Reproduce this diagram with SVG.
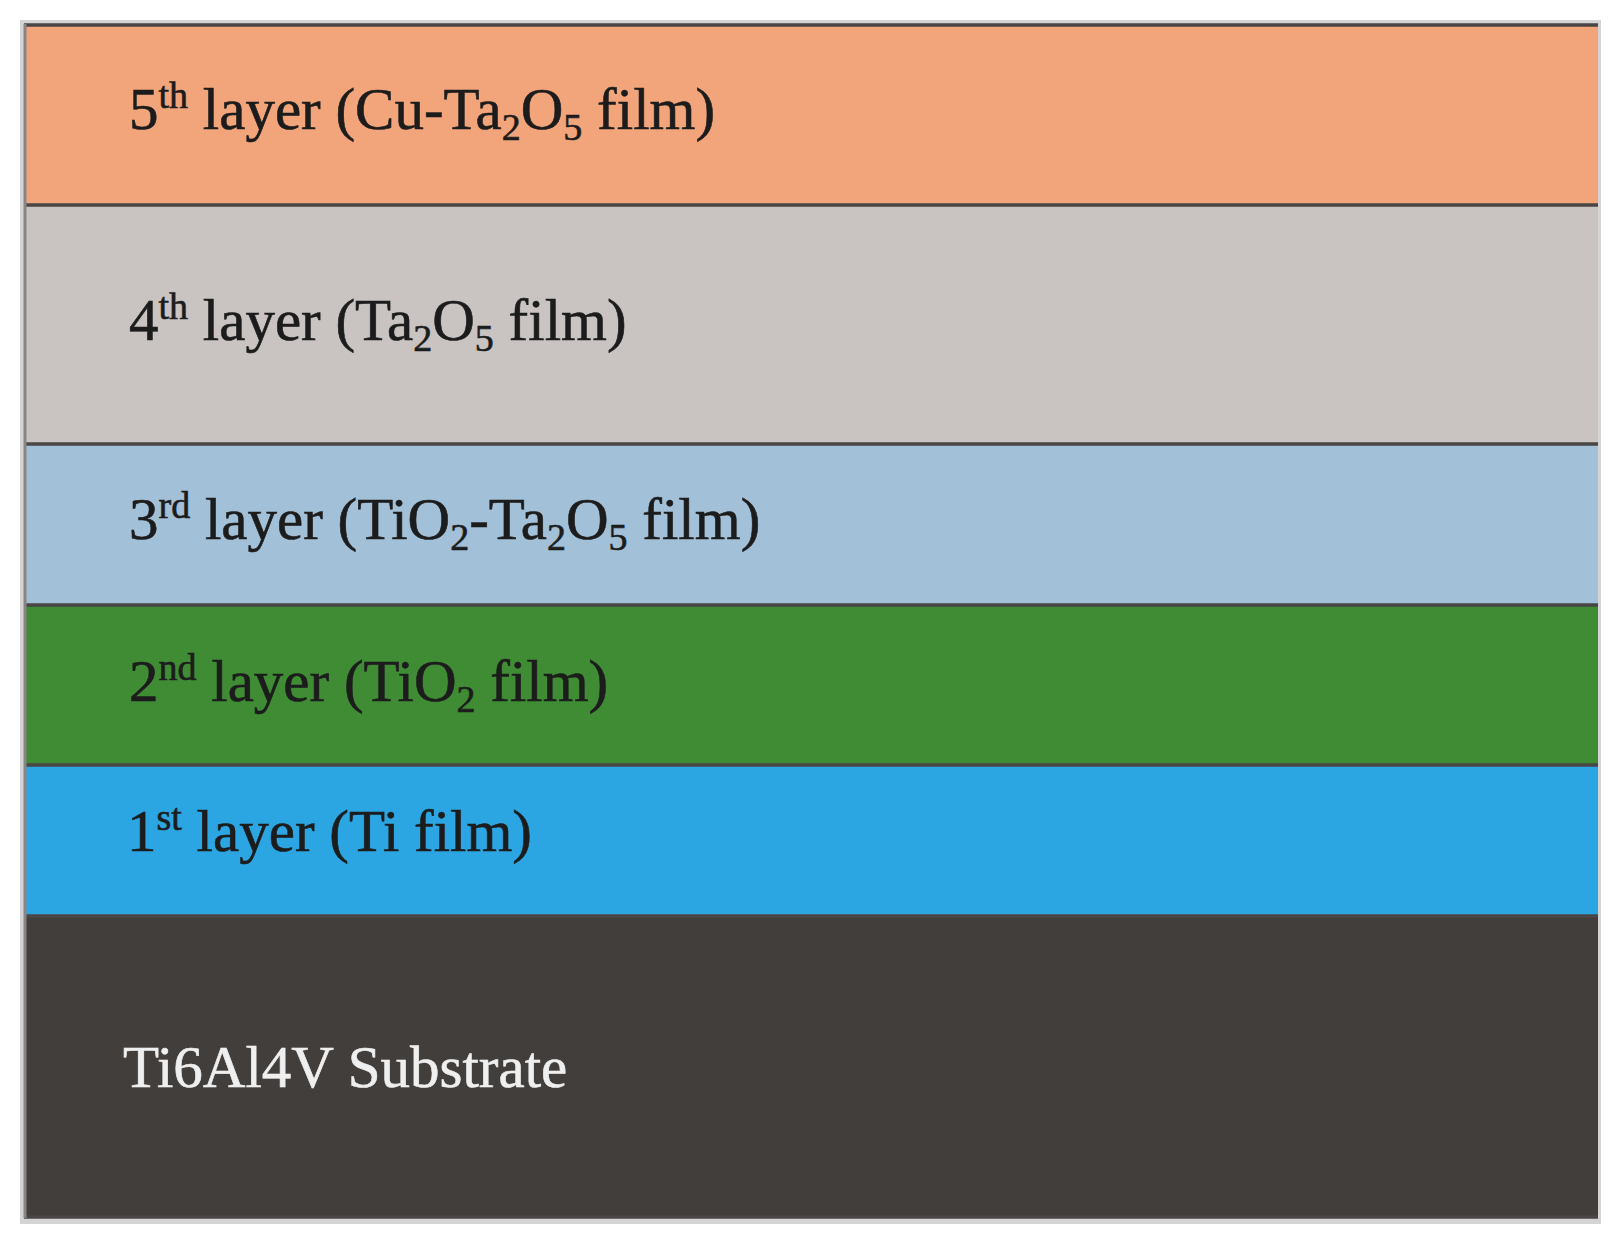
<svg xmlns="http://www.w3.org/2000/svg" width="1617" height="1246" viewBox="0 0 1617 1246">
<style>
.lbl{font-family:"Liberation Serif","Times New Roman",serif;font-size:59px;fill:#1c1c1c;stroke:#1c1c1c;stroke-width:0.6}
.sub{font-size:38px}
.sup{font-size:38px}
.sep{stroke:#4a4646;stroke-width:3.5}
.white{fill:#efefef;stroke:#efefef}
</style>
<rect x="0" y="0" width="1617" height="1246" fill="#ffffff"/>
<rect x="20" y="20" width="1581" height="1204" fill="#d4d4d4"/>
<g id="layer5">
<rect x="24" y="24" width="1574" height="180" fill="#f2a57a"/>
<text class="lbl" x="129" y="129">5<tspan class="sup" dy="-21">th</tspan><tspan dy="21"> layer (Cu-Ta</tspan><tspan class="sub" dy="11">2</tspan><tspan dy="-11">O</tspan><tspan class="sub" dy="11">5</tspan><tspan dy="-11"> film)</tspan></text>
</g>
<g id="layer4">
<rect x="24" y="204" width="1574" height="240" fill="#c9c4c2"/>
<text class="lbl" x="129" y="340">4<tspan class="sup" dy="-21">th</tspan><tspan dy="21"> layer (Ta</tspan><tspan class="sub" dy="11">2</tspan><tspan dy="-11">O</tspan><tspan class="sub" dy="11">5</tspan><tspan dy="-11"> film)</tspan></text>
</g>
<g id="layer3">
<rect x="24" y="444" width="1574" height="161" fill="#a2c0d7"/>
<text class="lbl" x="129" y="539">3<tspan class="sup" dy="-21">rd</tspan><tspan dy="21"> layer (TiO</tspan><tspan class="sub" dy="11">2</tspan><tspan dy="-11">-Ta</tspan><tspan class="sub" dy="11">2</tspan><tspan dy="-11">O</tspan><tspan class="sub" dy="11">5</tspan><tspan dy="-11"> film)</tspan></text>
</g>
<g id="layer2">
<rect x="24" y="605" width="1574" height="160" fill="#3f8c35"/>
<text class="lbl" x="129" y="701">2<tspan class="sup" dy="-21">nd</tspan><tspan dy="21"> layer (TiO</tspan><tspan class="sub" dy="11">2</tspan><tspan dy="-11"> film)</tspan></text>
</g>
<g id="layer1">
<rect x="24" y="765" width="1574" height="151" fill="#2ca6e2"/>
<text class="lbl" x="127" y="851">1<tspan class="sup" dy="-21">st</tspan><tspan dy="21"> layer (Ti film)</tspan></text>
</g>
<g id="substrate">
<rect x="24" y="916" width="1574" height="302" fill="#423e3b"/>
<text class="lbl white" x="123" y="1087">Ti6Al4V Substrate</text>
</g>
<g id="borders" fill="none">
<line class="sep" x1="24" y1="25" x2="1598" y2="25" stroke="#7d706b"/>
<line class="sep" x1="24" y1="205" x2="1598" y2="205"/>
<line class="sep" x1="24" y1="444" x2="1598" y2="444"/>
<line class="sep" x1="24" y1="605" x2="1598" y2="605"/>
<line class="sep" x1="24" y1="765" x2="1598" y2="765"/>
<line class="sep" x1="24" y1="916" x2="1598" y2="916"/>
<line class="sep" x1="24" y1="1217" x2="1598" y2="1217" stroke="#5a5757"/>
<line x1="25" y1="24" x2="25" y2="1218" stroke="#8a8585" stroke-width="3"/>
</g>
</svg>
